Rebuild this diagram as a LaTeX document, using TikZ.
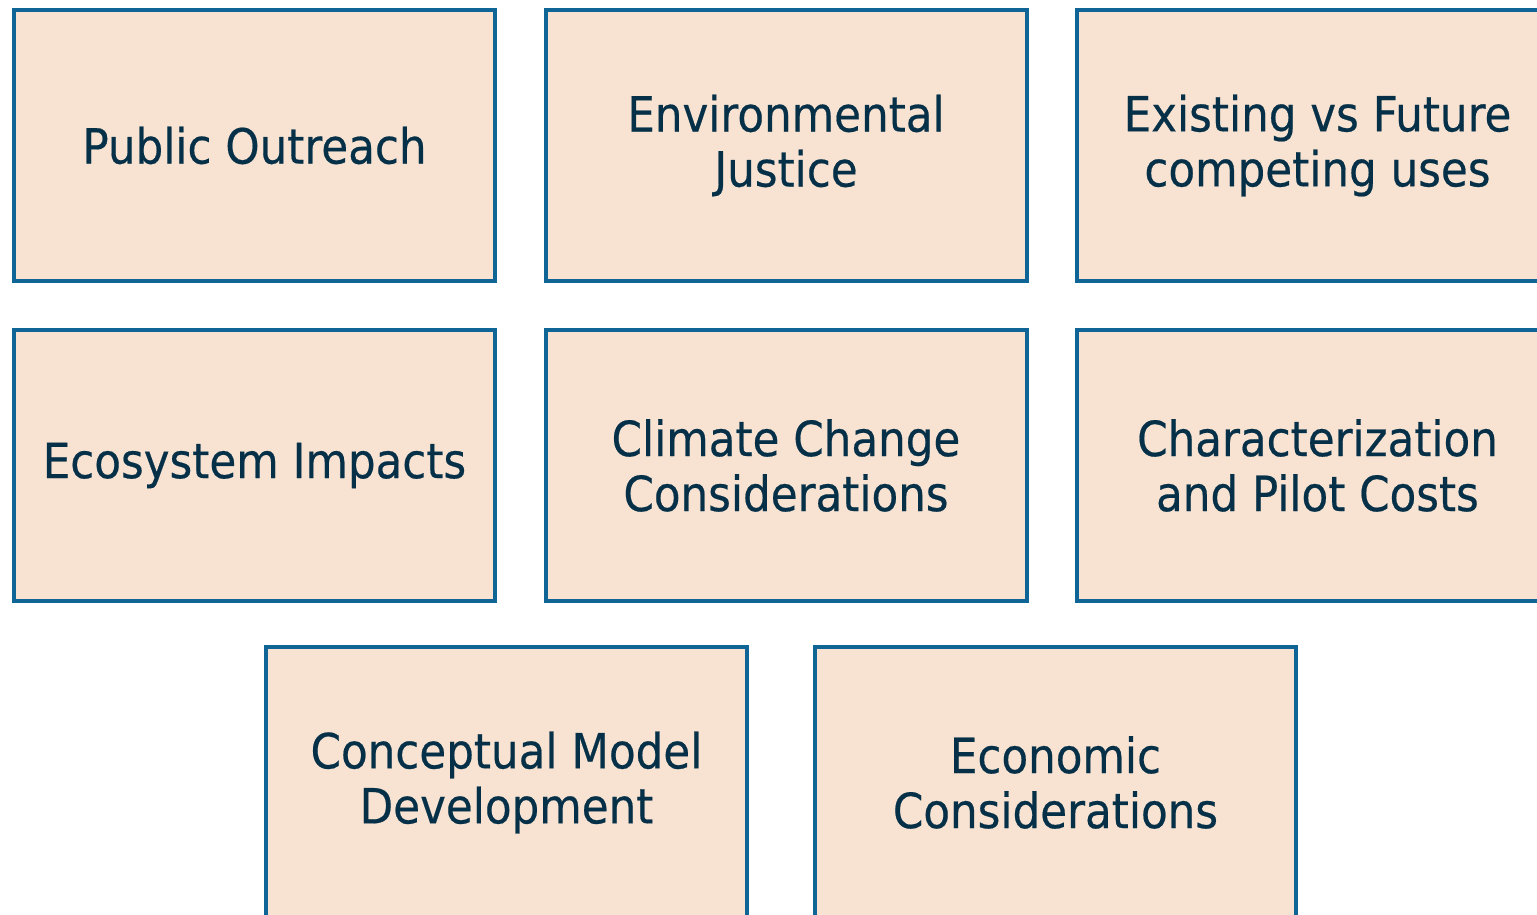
\documentclass[tikz,border=0pt]{standalone}
\usepackage{fontspec}
\setmainfont{DejaVu Sans Condensed}[FakeBold=0.4]
\definecolor{boxfill}{RGB}{248,227,210}
\definecolor{boxline}{RGB}{14,101,150}
\definecolor{boxtext}{RGB}{5,48,72}
\tikzset{
  card/.style={draw=boxline, fill=boxfill, line width=4pt, minimum width=481pt, minimum height=271pt,
    inner sep=0pt, align=center, text=boxtext, font=\fontsize{48.5}{55}\selectfont},
}
\begin{document}
\begin{tikzpicture}[x=1pt,y=-1pt]
\useasboundingbox (0,0) rectangle (1537,914);
\clip (0,0) rectangle (1537,914);
\node[card] (po) at (254.5,145.5) {Public Outreach};
\node[card] (ej) at (786,145.5) {Environmental\\Justice};
\node[card] (ef) at (1317.5,145.5) {Existing vs Future\\competing uses};
\node[card] (ei) at (254.5,465.5) {Ecosystem Impacts};
\node[card] (cc) at (786,465.5) {Climate Change\\Considerations};
\node[card] (cp) at (1317.5,465.5) {Characterization\\and Pilot Costs};
\node[card] (cm) at (506.5,782.5) {Conceptual Model\\Development};
\node[card] (ec) at (1055.5,782.5) {Economic\\Considerations};
\end{tikzpicture}
\end{document}
